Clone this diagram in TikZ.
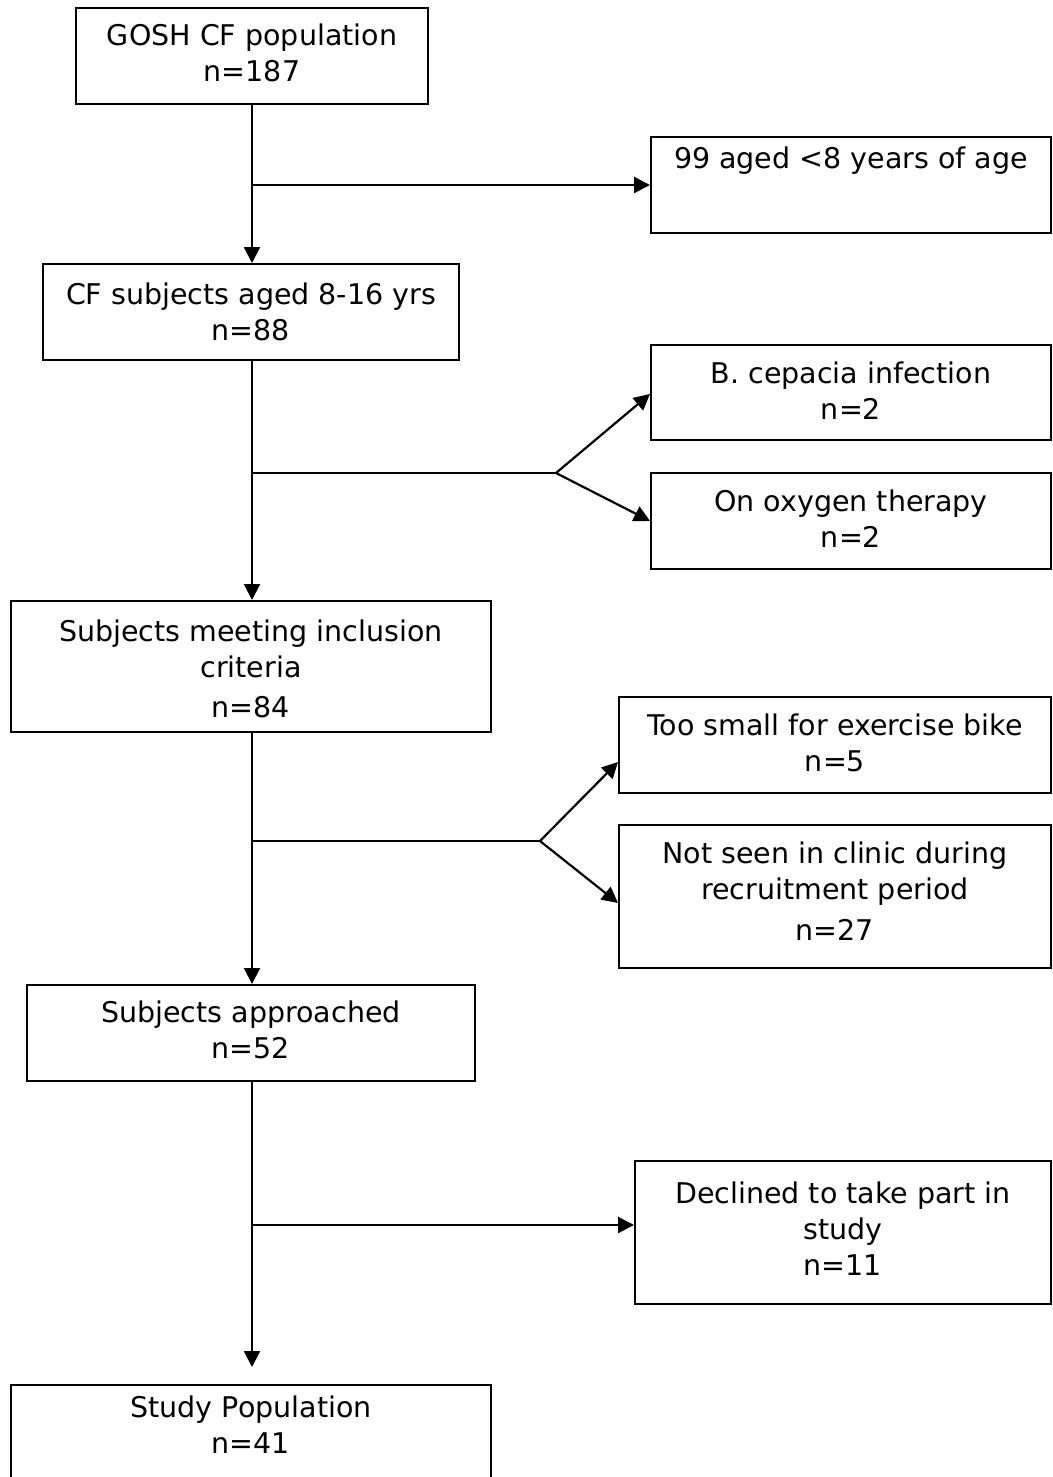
\documentclass[tikz,border=0pt]{standalone}
\usepackage{fontspec}
\setmainfont{DejaVu Sans}
\usetikzlibrary{arrows.meta}
\begin{document}
\begin{tikzpicture}[x=1pt,y=-1pt,
  box/.style={draw, line width=2pt, inner sep=0pt, rectangle},
  txt/.style={align=center, inner sep=0pt, font=\fontsize{28.5}{36}\selectfont},
  ln/.style={line width=2.2pt},
  arr/.style={line width=2.2pt, -{Triangle[length=16pt,width=16pt]}}]
\useasboundingbox (0,0) rectangle (1052,1477);
\clip (0,0) rectangle (1052,1477);
% boxes
\node[box, minimum width=352pt, minimum height=96pt] (gosh) at (252,56) {};
\node[box, minimum width=400pt, minimum height=96pt] (age) at (851,185) {};
\node[box, minimum width=416pt, minimum height=96pt] (cf) at (251,312) {};
\node[box, minimum width=400pt, minimum height=95pt] (bcep) at (851,392.5) {};
\node[box, minimum width=400pt, minimum height=96pt] (oxy) at (851,521) {};
\node[box, minimum width=480pt, minimum height=131pt] (incl) at (251,666.5) {};
\node[box, minimum width=432pt, minimum height=96pt] (small) at (835,745) {};
\node[box, minimum width=432pt, minimum height=143pt] (notseen) at (835,896.5) {};
\node[box, minimum width=448pt, minimum height=96pt] (appr) at (251,1033) {};
\node[box, minimum width=416pt, minimum height=143pt] (decl) at (843,1232.5) {};
\node[box, minimum width=480pt, minimum height=140pt] (study) at (251,1455) {};
% texts (base = baseline of last line)
\node[txt, anchor=base] (goshT) at (252,82) {GOSH CF population\\n=187};
\node[txt, anchor=base] (ageT) at (851,168) {99 aged <8 years of age};
\node[txt, anchor=base] (cfT) at (251,340) {CF subjects aged 8-16 yrs\\n=88};
\node[txt, anchor=base] (bcepT) at (851,419) {B. cepacia infection\\n=2};
\node[txt, anchor=base] (oxyT) at (851,547) {On oxygen therapy\\n=2};
\node[txt, anchor=base] (inclT) at (251,717) {Subjects meeting inclusion\\criteria\\[4pt]n=84};
\node[txt, anchor=base] (smallT) at (835,771) {Too small for exercise bike\\n=5};
\node[txt, anchor=base] (notseenT) at (835,940) {Not seen in clinic during\\recruitment period\\[5pt]n=27};
\node[txt, anchor=base] (apprT) at (251,1058) {Subjects approached\\n=52};
\node[txt, anchor=base] (declT) at (843,1275) {Declined to take part in\\study\\n=11};
\node[txt, anchor=base] (studyT) at (251,1453) {Study Population\\n=41};
% junctions
\coordinate (j2) at (556,473);
\coordinate (j3) at (540,841);
\coordinate (j4) at (252,1225);
% connectors
\draw[arr] (gosh.south) -- (gosh.south |- cf.north);
\draw[arr] (gosh.south |- age.west) -- (age.west);
\draw[arr] (cf.south -| gosh.south) -- (gosh.south |- incl.north);
\draw[ln] (gosh.south |- j2) -- (j2);
\draw[arr] (j2) -- ([yshift=-1.5pt]bcep.west);
\draw[arr] (j2) -- (oxy.west);
\draw[arr] (incl.south -| gosh.south) -- (gosh.south |- appr.north);
\draw[ln] (gosh.south |- j3) -- (j3);
\draw[arr] (j3) -- ([yshift=-17pt]small.west);
\draw[arr] (j3) -- ([yshift=-6.5pt]notseen.west);
\draw[arr, shorten >=17pt] (appr.south -| gosh.south) -- (gosh.south |- study.north);
\draw[arr] (j4) -- (decl.west |- j4);
\end{tikzpicture}
\end{document}
